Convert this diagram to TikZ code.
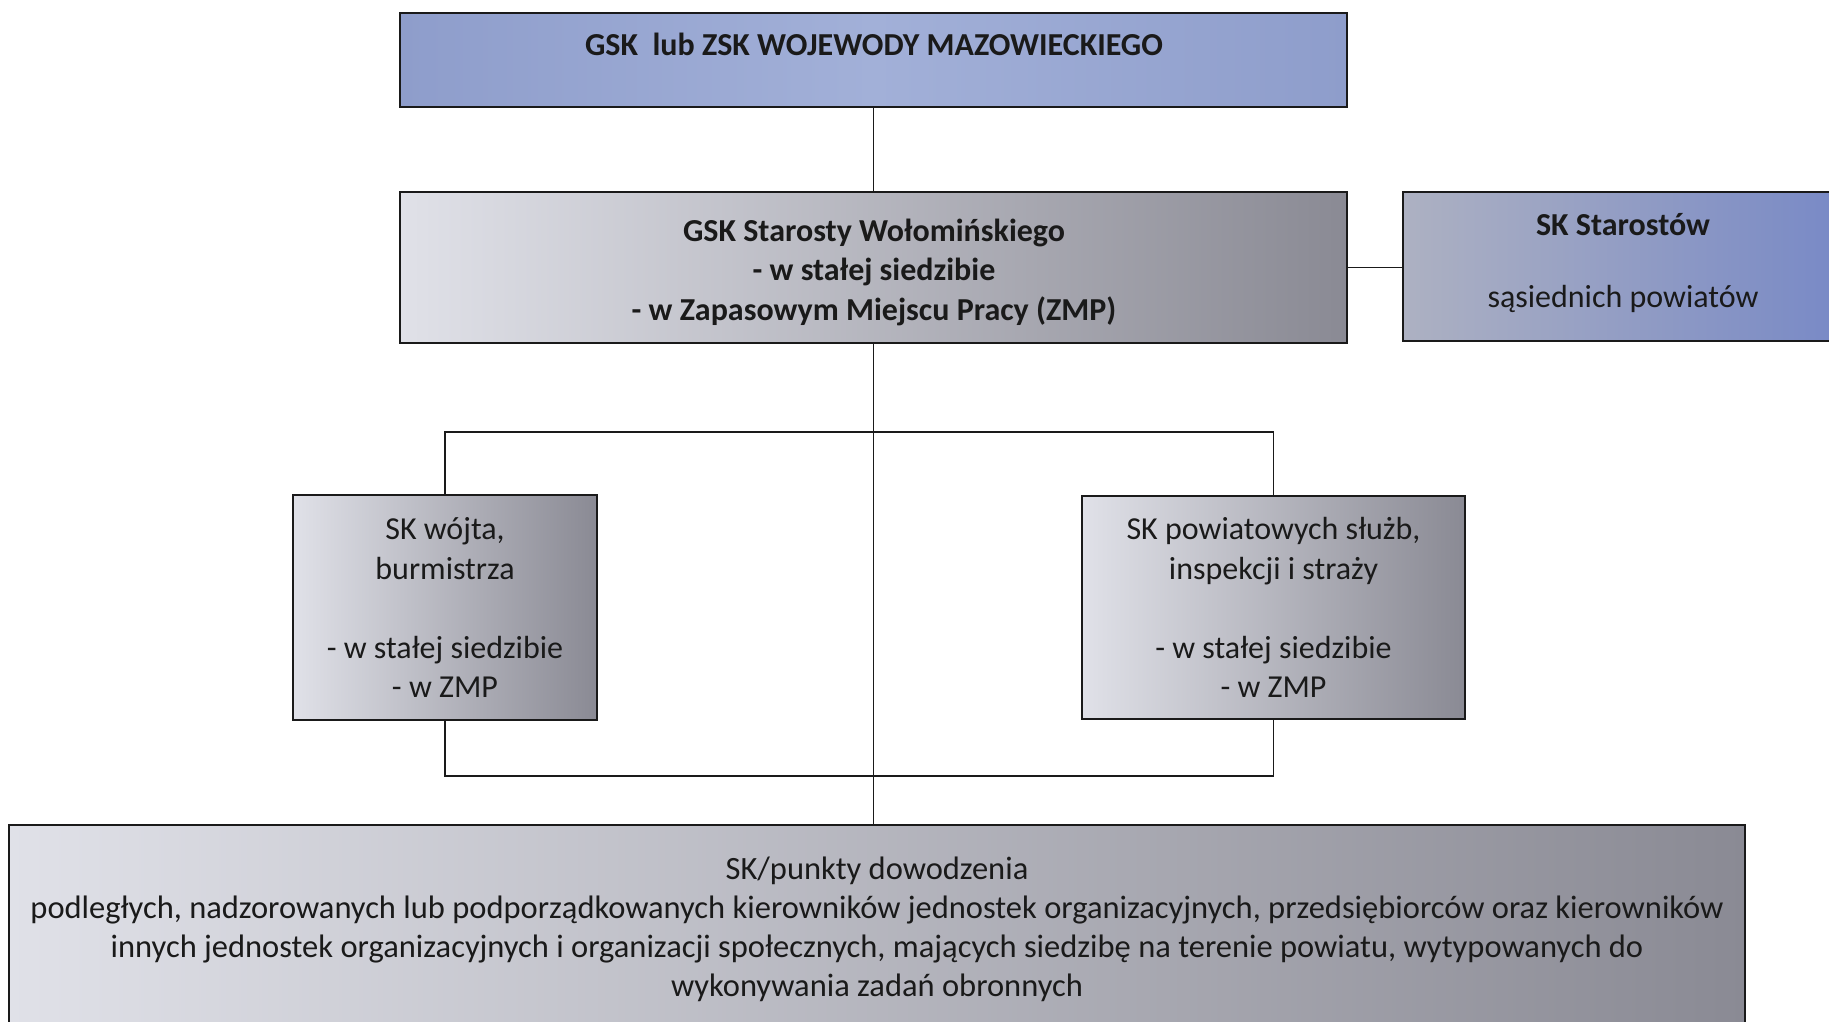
\documentclass[tikz,border=0pt]{standalone}
\usepackage{fontspec}
\setmainfont{Carlito}
\definecolor{topblue}{HTML}{8E9DCB}
\definecolor{topblueL}{HTML}{A2B0D8}
\definecolor{lgray}{HTML}{E0E1E8}
\definecolor{dgray}{HTML}{8A8A94}
\definecolor{sksL}{HTML}{ADB1C2}
\definecolor{sksR}{HTML}{7889C6}
\definecolor{ink}{HTML}{1A1A1A}
\tikzset{
  box/.style={draw=ink, line width=2.4pt, rectangle, inner sep=0pt, text=ink,
    align=center, font=\fontsize{32}{39.5}\selectfont},
  grbox/.style={box, left color=lgray, right color=dgray},
  conn/.style={draw=ink, line width=1.2pt},
  lbl/.style={align=center, text=ink, font=\fontsize{32}{39.5}\selectfont, inner sep=0pt}
}
\begin{document}
\begin{tikzpicture}[x=1pt,y=-1pt]
\useasboundingbox (0,0) rectangle (1829,1022);
\clip (0,0) rectangle (1829,1022);
\fill[white] (0,0) rectangle (1829,1022);

% boxes
\node[box, left color=topblue, right color=topblue, middle color=topblueL,
  minimum width=947pt, minimum height=94pt] (top) at (873.5,60) {};
\node[lbl, font=\fontsize{32}{39.5}\selectfont\bfseries] (toptxt) at (874,44) {GSK\ \ lub ZSK WOJEWODY MAZOWIECKIEGO};

\node[grbox, minimum width=947pt, minimum height=151pt] (gsk) at (873.5,267.5) {};
\node[lbl, font=\fontsize{32}{39.5}\selectfont\bfseries] (gsktxt) at (874,272)
  {GSK Starosty Wołomińskiego\\ - w stałej siedzibie\\ - w Zapasowym Miejscu Pracy (ZMP)};

\node[box, left color=sksL, right color=sksR, minimum width=440pt, minimum height=149pt] (sks) at (1623,266.5) {};
\node[lbl] (skstxt) at (1623,263) {\bfseries SK Starostów\\[32pt] sąsiednich powiatów};

\node[grbox, minimum width=304pt, minimum height=225pt] (wojt) at (445,607.5)
  {SK wójta,\\ burmistrza\\[39.5pt] - w stałej siedzibie\\ - w ZMP};

\node[grbox, minimum width=383pt, minimum height=223pt] (sluzb) at (1273.5,607.5)
  {SK powiatowych służb,\\ inspekcji i straży\\[39.5pt] - w stałej siedzibie\\ - w ZMP};

\node[grbox, minimum width=1736pt, minimum height=240pt, anchor=north] (podl) at (877,824) {};
\node[lbl, font=\fontsize{32.5}{39}\selectfont] (podltxt) at (877,929.5)
  {SK/punkty dowodzenia\\
   podległych, nadzorowanych lub podporządkowanych kierowników jednostek organizacyjnych, przedsiębiorców oraz kierowników\\
   innych jednostek organizacyjnych i organizacji społecznych, mających siedzibę na terenie powiatu, wytypowanych do\\
   wykonywania zadań obronnych};

% connectors
\coordinate (jt) at (874,432);
\coordinate (jb) at (874,776);
\draw[conn] (top.south) -- (gsk.north);
\draw[conn] (gsk.east) -- (sks.west |- gsk.east);
\draw[conn] (gsk.south) -- (gsk.south |- podl.north);
\draw[conn] (wojt.north) |- (jt) -| (sluzb.north);
\draw[conn] (wojt.south) |- (jb) -| (sluzb.south);
\end{tikzpicture}
\end{document}
